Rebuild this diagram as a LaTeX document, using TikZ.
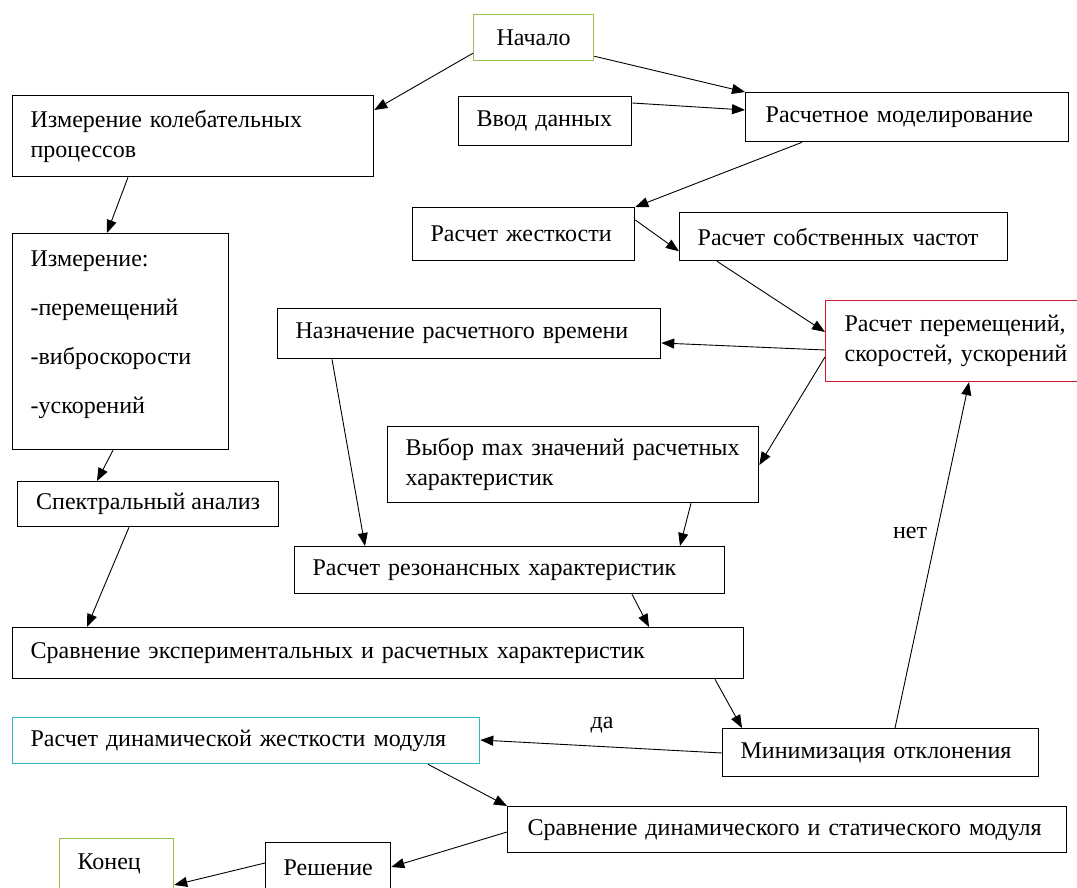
\documentclass[tikz,border=0pt]{standalone}
\usepackage{fontspec}
\setmainfont{Liberation Serif}
\usetikzlibrary{calc,arrows.meta}
\definecolor{startgreen}{RGB}{150,190,80}
\definecolor{calcred}{RGB}{205,25,50}
\definecolor{resultcyan}{RGB}{50,185,200}
\tikzset{
	box/.style={draw, line width=1.3pt, anchor=north west, align=left, inner xsep=18pt, inner ysep=0pt, font=\fontsize{24}{30}\selectfont},
	link/.style={line width=0.9pt, -{Triangle[length=13pt,width=10pt]}}
}

\begin{document}
\begin{tikzpicture}[x=1pt, y=-1pt]
			%%%%% START %%%%%
			\useasboundingbox[fill=white] (0,0) rectangle (1077,888);
			
			\node[box, draw=startgreen, line width=1.2pt, align=center, minimum width=120pt, minimum height=46pt] (nach) at (473,14) {Начало};
			\node[box, text width=325pt, minimum height=81pt] (izmkol) at (12,95) {Измерение колебательных\\процессов};
			\node[box, text width=137pt, minimum height=49pt] (vvod) at (458,96) {Ввод данных};
			\node[box, text width=283pt, inner xsep=20pt, minimum height=49pt] (model) at (745,92) {Расчетное моделирование};
			
			\node[box, text width=186pt, minimum height=53pt] (zhest) at (412,207) {Расчет жесткости};
			\node[box, text width=292pt, minimum height=48pt] (sobstv) at (679,212) {Расчет собственных частот};
			
			\node[box, text width=180pt, minimum height=216pt] (izm) at (12,233) {Измерение:\\[19pt]-перемещений\\[19pt]-виброскорости\\[19pt]-ускорений\\[-10pt]\mbox{}};
			\node[box, text width=347pt, minimum height=50pt] (naznach) at (277,308) {Назначение расчетного времени};
			\node[box, draw=calcred, line width=1.2pt, text width=240pt, inner xsep=19pt, minimum height=81pt] (perem) at (825,300) {Расчет перемещений,\\скоростей, ускорений};
			
			\node[box, text width=335pt, minimum height=76pt] (vybor) at (387,426) {Выбор max значений расчетных\\характеристик};
			\node[box, minimum width=261pt, minimum height=45pt] (spektr) at (17,481) {Спектральный анализ};
			\node[box, text width=394pt, minimum height=47pt] (rezon) at (294,546) {Расчет резонансных характеристик};
			
			\node[box, text width=695pt, minimum height=51pt] (sravn) at (12,627) {Сравнение экспериментальных и расчетных характеристик};
			\node[box, draw=resultcyan, line width=1.3pt, text width=431pt, minimum height=46pt] (dinzh) at (12,717) {Расчет динамической жесткости модуля};
			\node[box, text width=280pt, minimum height=48pt] (minim) at (722,728) {Минимизация отклонения};
			
			\node[box, text width=519pt, inner xsep=20pt, minimum height=46pt] (sravdin) at (507,806) {Сравнение динамического и статического модуля};
			\node[box, text width=89pt, minimum height=50pt] (reshen) at (265,842) {Решение};
			\node[box, draw=startgreen, line width=1.2pt, text width=78pt, minimum height=50pt] (konec) at (59,838) {Конец};
			
			\node[font=\fontsize{24}{30}\selectfont] (net) at (910,533) {нет};
			\node[font=\fontsize{24}{30}\selectfont] (da) at (602,725) {да};
			
			% connectors
			\draw[link] ($(nach.south west)+(0,-8)$) -- ($(izmkol.north east)+(0,15)$);
			\draw[link] ($(nach.south east)+(0,-5)$) -- (model.north west);
			\draw[link] ($(vvod.north east)+(0,7)$) -- ($(model.north west)+(0,18)$);
			\draw[link] ($(model.south west)+(57,0)$) -- (zhest.north east);
			\draw[link] ($(zhest.north east)+(0,13)$) -- ($(sobstv.south west)+(0,-10)$);
			\draw[link] ($(sobstv.south west)+(38,0)$) -- ($(perem.north west)+(0,32)$);
			\draw[link] ($(perem.north west)+(0,50)$) -- ($(naznach.north east)+(0,35)$);
			\draw[link] ($(perem.north west)+(0,57)$) -- ($(vybor.north east)+(0,39)$);
			\draw[link] ($(naznach.south west)+(55,0)$) -- ($(rezon.north west)+(71,0)$);
			\draw[link] ($(vybor.south west)+(304,0)$) -- ($(rezon.north west)+(386,0)$);
			
			\draw[link] ($(izmkol.south west)+(116,0)$) -- ($(izm.north west)+(95,0)$);
			\draw[link] ($(izm.south west)+(101,0)$) -- ($(spektr.north west)+(80,0)$);
			\draw[link] ($(spektr.south west)+(112,0)$) -- ($(sravn.north west)+(75,0)$);
			\draw[link] ($(rezon.south west)+(338,0)$) -- ($(sravn.north west)+(637,0)$);
			\draw[link] ($(sravn.south west)+(703,0)$) -- ($(minim.north west)+(20,0)$);
			
			\draw[link] ($(minim.north west)+(0,25)$) -- ($(dinzh.north east)+(0,23)$);
			\draw[link] ($(minim.north west)+(173,0)$) -- ($(perem.south west)+(144,0)$);
			\draw[link] ($(dinzh.south west)+(416,0)$) -- (sravdin.north west);
			\draw[link] ($(sravdin.north west)+(0,26)$) -- ($(reshen.north east)+(0,25)$);
			\draw[link] ($(reshen.north west)+(0,21)$) -- ($(konec.north east)+(0,47)$);
			
			%%%%% END %%%%%
\end{tikzpicture}
\end{document}
